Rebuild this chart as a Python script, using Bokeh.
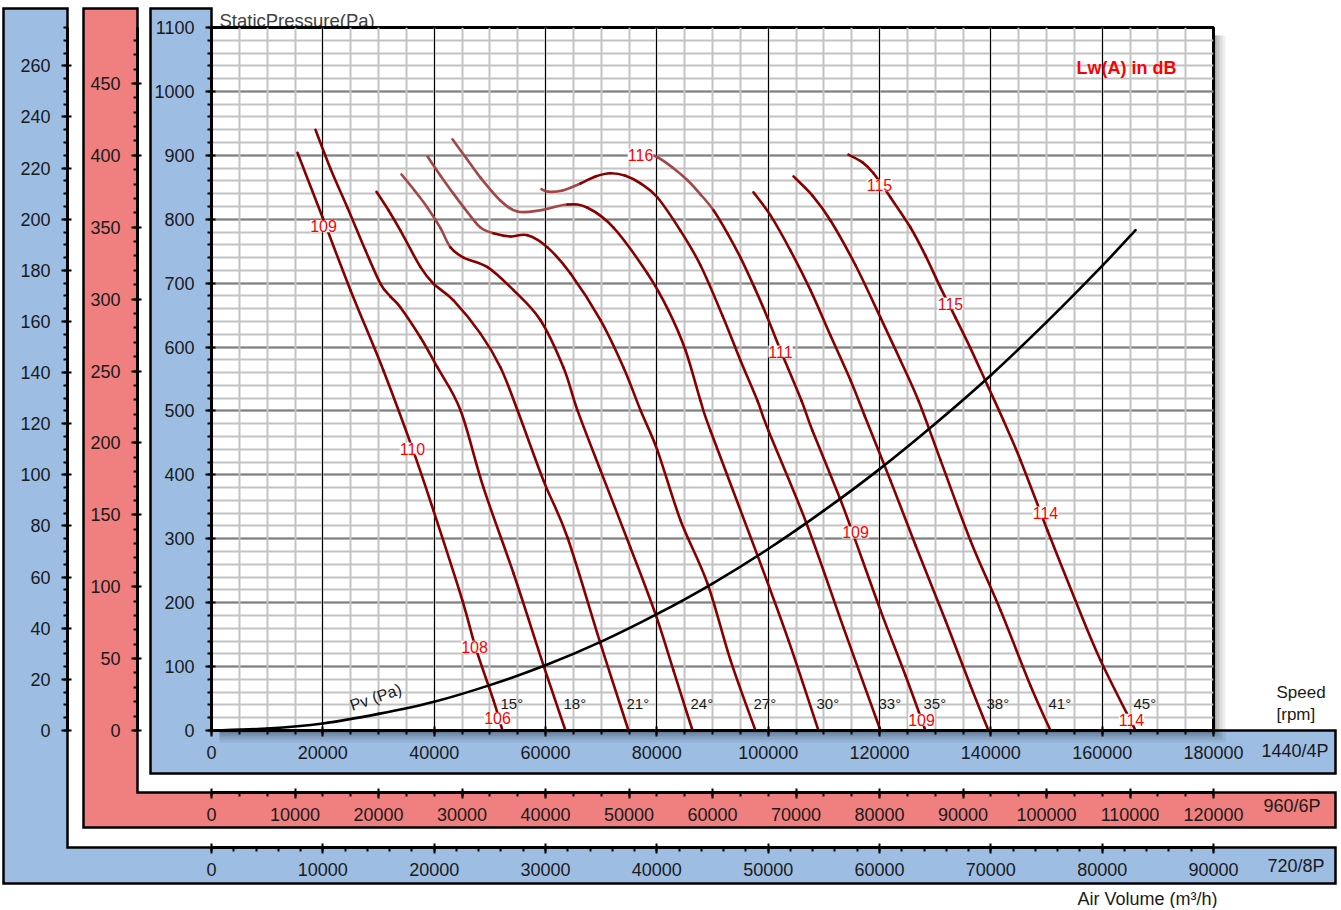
from bokeh.plotting import figure
from bokeh.models import (Range1d, LinearAxis, SingleIntervalTicker, BasicTickFormatter,
                          Grid, Label, LabelSet, ColumnDataSource)
from bokeh.core.properties import value
from bokeh.embed import file_html
from bokeh.resources import INLINE

FONT = "Liberation Sans"

# ---------------- data (air volume m3/h at 1440 rpm, static pressure Pa) ----------------
speeds = [1440, 960, 720]
speed_names = ["1440/4P", "960/6P", "720/8P"]
q_max = 180000
p_max = 1100

angles = ["15°", "18°", "21°", "24°", "27°", "30°", "33°", "35°", "38°", "41°", "45°"]

q15 = [15450, 19940, 24970, 30900, 36110, 39880, 45090, 47430, 50660, 52280]
p15 = [904, 803, 689, 563, 441, 344, 203, 130, 47, 0]

q18 = [18680, 21380, 24430, 27670, 30360, 32160, 33950, 37550, 40600, 44730, 48860, 54250, 59640, 63590]
p18 = [940, 879, 818, 751, 699, 679, 662, 615, 568, 501, 380, 246, 102, 0]

q21 = [29640, 31800, 33950, 37550, 39880, 43470, 48320, 51920, 54970, 59640, 63950, 69880, 74910]
p21 = [843, 814, 782, 725, 699, 673, 621, 568, 501, 391, 302, 136, 0]

q24 = [34130, 36470, 38800, 41140, 42930, 45270, 49580, 54250, 59100, 63230, 65750, 69880, 75270, 79760, 82990, 86410]
p24 = [870, 845, 818, 786, 756, 740, 725, 689, 642, 568, 501, 407, 286, 182, 94, 0]

q27 = [38800, 41140, 43470, 45990, 48320, 50660, 53710, 56770, 60360, 64490, 69880, 74010, 77070, 80120, 84250, 89100, 93230, 97720]
p27 = [898, 868, 840, 811, 787, 778, 773, 775, 756, 715, 642, 568, 501, 438, 329, 230, 110, 0]

q30 = [43290, 45810, 48320, 51920, 54970, 59100, 63950, 67550, 72220, 78320, 82100, 85150, 87840, 89640, 98080, 103650, 109040]
p30 = [925, 895, 865, 829, 812, 814, 823, 818, 787, 715, 657, 595, 516, 469, 274, 141, 0]

q33 = [59280, 60540, 63050, 66290, 68980, 71680, 74370, 77070, 80120, 84250, 87840, 91800, 95030, 98080, 100060, 106890, 113530, 120180]
p33 = [847, 843, 845, 856, 867, 872, 868, 856, 834, 782, 728, 649, 579, 516, 469, 324, 161, 0]

q35 = [75270, 77960, 80120, 82810, 85510, 87840, 90180, 92690, 95030, 97550, 99880, 102220, 105990, 107960, 112810, 115150, 120180, 124670, 128260]
p35 = [906, 903, 897, 881, 861, 839, 814, 778, 740, 693, 646, 595, 516, 469, 365, 310, 188, 86, 0]

q38 = [97370, 100420, 104010, 107600, 111200, 114790, 117310, 121980, 126470, 131860, 136350, 139580]
p38 = [842, 806, 751, 689, 618, 548, 493, 391, 290, 172, 70, 0]

q41 = [104550, 107960, 111200, 115690, 120180, 123770, 127010, 130960, 136350, 141740, 147130, 150720]
p41 = [867, 837, 798, 728, 646, 579, 516, 423, 297, 188, 70, 0]

q45 = [114430, 116950, 118920, 121980, 125570, 128260, 130960, 133650, 136350, 139400, 142280, 145330, 150180, 155210, 159700, 165990]
p45 = [901, 889, 872, 834, 787, 743, 693, 646, 598, 540, 485, 423, 313, 203, 110, 0]

# number of leading points drawn in the lighter (unstable) colour
stall_points = [0, 0, 0, 4, 5, 6, 3, 6, 0, 0, 0]

# dynamic pressure curve
pv_q = [0, 10000, 20000, 30000, 40000, 50000, 60000, 70000, 80000, 90000, 100000, 110000,
        120000, 130000, 140000, 150000, 160000, 166000]
pv_p = [0, 3, 11, 26, 45, 71, 102, 139, 182, 230, 284, 344, 409, 480, 556, 639, 727, 783]

# sound power labels Lw(A) dB
noise_q = [20120, 36110, 47250, 51380, 77070, 102220, 120000, 132750, 115690, 127540, 149820, 165270]
noise_p = [789, 441, 131, 19, 901, 593, 853, 668, 310, 17, 341, 17]
noise_txt = ["109", "110", "108", "106", "116", "111", "115", "115", "109", "109", "114", "114"]

angle_label_p = 42

# ---------------- layout constants (canvas pixels) ----------------
W, H = 1339, 908
FL, FR, FT, FB = 211, 1213, 27, 730   # chart frame edges
RX = 1335                              # right end of the coloured bands
AX_LEFT = [FL, 137, 67]                # y-axis line positions for 1440 / 960 / 720 rpm
AX_BOTTOM = [FB, 792, 847]             # x-axis line positions for 1440 / 960 / 720 rpm
BLUE = "#9dbde3"
RED = "#f08080"
TXT = "#1a1a1a"
OVERLAY = {"position": "absolute", "left": "0px", "top": "0px"}

def base_fig(**kw):
    f = figure(width=W, height=H, output_backend="svg", toolbar_location=None,
               x_axis_type=None, y_axis_type=None, **kw)
    f.styles = OVERLAY
    return f

# ---------------- background: coloured L-shaped bands and outside texts ----------------
bg = base_fig(x_range=Range1d(0, W), y_range=Range1d(H, 0), min_border=0)
bg.outline_line_color = None
bg.background_fill_color = "white"
bg.border_fill_color = "white"

bands = [
    ([3, AX_LEFT[2], AX_LEFT[2], RX, RX, 3], [8, 8, AX_BOTTOM[2], AX_BOTTOM[2], 883, 883], BLUE),
    ([83, AX_LEFT[1], AX_LEFT[1], RX, RX, 83], [8, 8, AX_BOTTOM[1], AX_BOTTOM[1], 827, 827], RED),
    ([150, FL, FL, RX, RX, 150], [8, 8, FB, FB, 773, 773], BLUE),
]
for xs, ys, col in bands:
    bg.patch(xs, ys, fill_color=col, line_color="black", line_width=2.5, line_join="miter")

# soft drop shadow of the chart frame
for w, a in [(12, 0.06), (9, 0.08), (6, 0.1), (3, 0.14)]:
    bg.patch([FR, FR + w, FR + w, FL + 8, FL + 8, FR],
             [FT + 8, FT + 8, FB + w, FB + w, FB, FB],
             fill_color="black", fill_alpha=a, line_color=None)

def bg_text(x, y, t, size="18px", color=TXT, align="left", baseline="middle"):
    bg.text(x=[x], y=[y], text=[t], text_font=value(FONT), text_font_size=size,
            text_color=color, text_align=align, text_baseline=baseline)

bg_text(219, 20, "StaticPressure(Pa)", size="18.5px", color="#404040", baseline="alphabetic")
bg_text(1276, 692, "Speed", size="17px")
bg_text(1276, 714, "[rpm]", size="17px")
bg_text(1261, 750, speed_names[0])
bg_text(1263, 805, speed_names[1])
bg_text(1267, 865, speed_names[2])
bg_text(1217, 898, "Air Volume (m³/h)", align="right", baseline="alphabetic")

# ---------------- axis styling ----------------
def style_axis(ax, standoff):
    ax.formatter = BasicTickFormatter(use_scientific=False)
    ax.axis_line_width = 3
    ax.axis_line_color = "black"
    ax.major_tick_line_width = 2
    ax.minor_tick_line_width = 2
    ax.major_tick_out = 6
    ax.major_tick_in = 4
    ax.minor_tick_out = 4
    ax.minor_tick_in = 0
    ax.major_label_text_font = FONT
    ax.major_label_text_font_size = "18px"
    ax.major_label_text_color = TXT
    ax.major_label_standoff = standoff

# ---------------- scale figures for the lower speeds (fan laws) ----------------
def speed_axes(ratio, left_px, bottom_px, x_int, x_minor, y_int, y_minor):
    q_end = q_max * ratio
    p_end = p_max * ratio ** 2
    xr = Range1d(-(FL - left_px) * q_end / (FR - FL), q_end)
    yr = Range1d(-(bottom_px - FB) * p_end / (FB - FT), p_end)
    f = base_fig(x_range=xr, y_range=yr, min_border_left=left_px, min_border_right=W - FR,
                 min_border_top=FT, min_border_bottom=H - bottom_px)
    f.outline_line_color = None
    f.background_fill_color = None
    f.border_fill_color = None
    ay = LinearAxis(ticker=SingleIntervalTicker(interval=y_int, num_minor_ticks=y_minor),
                    bounds=(0, p_end))
    style_axis(ay, 11)
    axx = LinearAxis(ticker=SingleIntervalTicker(interval=x_int, num_minor_ticks=x_minor),
                     bounds=(0, q_end))
    style_axis(axx, 9)
    f.add_layout(ay, "left")
    f.add_layout(axx, "below")
    return f

f720 = speed_axes(speeds[2] / speeds[0], AX_LEFT[2], AX_BOTTOM[2], 10000, 5, 20, 4)
f960 = speed_axes(speeds[1] / speeds[0], AX_LEFT[1], AX_BOTTOM[1], 10000, 3, 50, 5)

# ---------------- main chart ----------------
p = base_fig(x_range=Range1d(0, q_max), y_range=Range1d(0, p_max),
             min_border_left=FL, min_border_right=W - FR,
             min_border_top=FT, min_border_bottom=H - FB)
p.background_fill_color = "white"
p.border_fill_color = None
p.outline_line_color = "black"
p.outline_line_width = 3

ygrid = Grid(dimension=1, ticker=SingleIntervalTicker(interval=100, num_minor_ticks=5),
             grid_line_color="#7f7f7f", grid_line_width=2,
             minor_grid_line_color="#c3c3c3", minor_grid_line_width=2)
xgrid = Grid(dimension=0, ticker=SingleIntervalTicker(interval=20000, num_minor_ticks=4),
             grid_line_color="black", grid_line_width=1,
             minor_grid_line_color="#c3c3c3", minor_grid_line_width=2)
p.add_layout(ygrid)
p.add_layout(xgrid)

ay1 = LinearAxis(ticker=SingleIntervalTicker(interval=100, num_minor_ticks=5))
style_axis(ay1, 11)
ax1 = LinearAxis(ticker=SingleIntervalTicker(interval=20000, num_minor_ticks=4))
style_axis(ax1, 9)
p.add_layout(ay1, "left")
p.add_layout(ax1, "below")

# smooth drawing through the read points (Catmull-Rom as cubic Bezier pieces)
def bezier_pieces(q, pr, lo, hi):
    n = len(q)
    cols = {k: [] for k in ("x0", "y0", "x1", "y1", "cx0", "cy0", "cx1", "cy1")}
    for i in range(lo, hi):
        a = max(i - 1, 0)
        d = min(i + 2, n - 1)
        cols["x0"].append(q[i]); cols["y0"].append(pr[i])
        cols["x1"].append(q[i + 1]); cols["y1"].append(pr[i + 1])
        cols["cx0"].append(q[i] + (q[i + 1] - q[a]) / 6)
        cols["cy0"].append(pr[i] + (pr[i + 1] - pr[a]) / 6)
        cols["cx1"].append(q[i + 1] - (q[d] - q[i]) / 6)
        cols["cy1"].append(pr[i + 1] - (pr[d] - pr[i]) / 6)
    return ColumnDataSource(cols)

def smooth_line(q, pr, lo, hi, color, width=2.6):
    p.bezier(x0="x0", y0="y0", x1="x1", y1="y1", cx0="cx0", cy0="cy0", cx1="cx1", cy1="cy1",
             source=bezier_pieces(q, pr, lo, hi), line_color=color, line_width=width,
             line_cap="round")

MAIN = "#870000"
STALL = "#a24646"
curves = [(q15, p15), (q18, p18), (q21, p21), (q24, p24), (q27, p27), (q30, p30),
          (q33, p33), (q35, p35), (q38, p38), (q41, p41), (q45, p45)]
for (q, pr), k in zip(curves, stall_points):
    if k > 0:
        smooth_line(q, pr, 0, k, STALL)
    smooth_line(q, pr, k, len(q) - 1, MAIN)

smooth_line(pv_q, pv_p, 0, len(pv_q) - 1, "black")

ang_src = ColumnDataSource(dict(x=[c[0][-1] for c in curves],
                                y=[angle_label_p] * len(curves), t=angles))
p.add_layout(LabelSet(x="x", y="y", text="t", source=ang_src, text_align="left",
                      text_baseline="middle", text_font=value(FONT), text_font_size="15px",
                      text_color=TXT, x_offset=-2))

noise_src = ColumnDataSource(dict(x=noise_q, y=noise_p, t=noise_txt))
p.add_layout(LabelSet(x="x", y="y", text="t", source=noise_src, text_align="center",
                      text_baseline="middle", text_font=value(FONT), text_font_size="16px",
                      text_color="#ff0000", background_fill_color="white"))

p.add_layout(Label(x=29500, y=52, text="Pv (Pa)", angle=0.33, text_align="center",
                   text_baseline="middle", text_font=FONT, text_font_size="16px",
                   text_color=TXT))

p.add_layout(Label(x=173350, y=1037, text="Lw(A) in dB", text_align="right",
                   text_baseline="middle", text_font=FONT, text_font_size="18px",
                   text_font_style="bold", text_color="#ff0000"))

open("out.html", "w").write(file_html([bg, f720, f960, p], INLINE))
